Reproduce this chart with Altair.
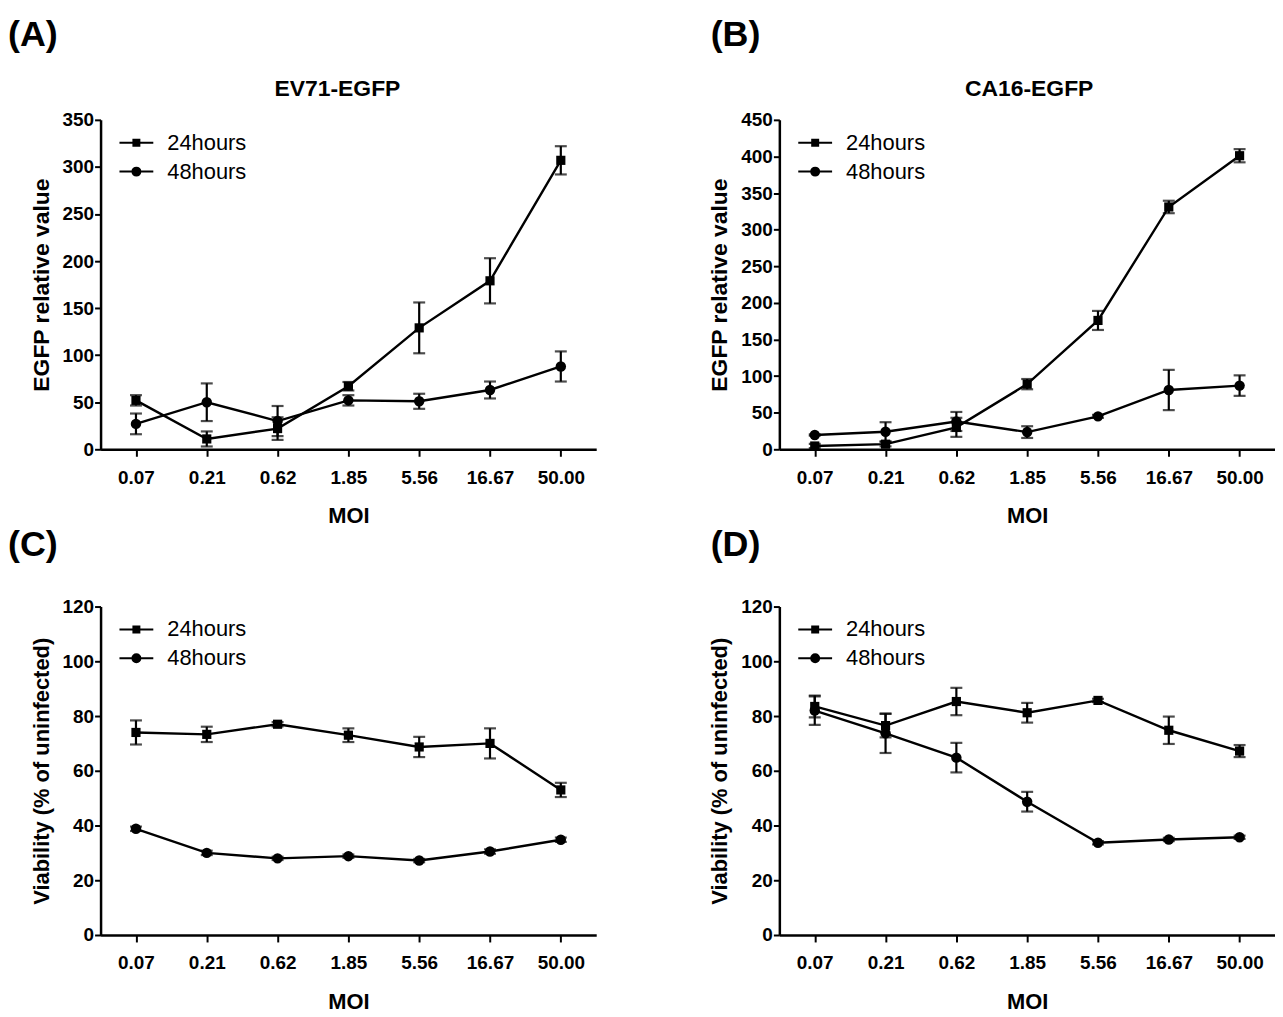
import altair as alt
import pandas as pd

moi = ["0.07", "0.21", "0.62", "1.85", "5.56", "16.67", "50.00"]
series_names = ["24hours", "48hours"]

# Panel A: EV71-EGFP, EGFP relative value
a_24 = [52, 11, 22, 67, 129, 179, 307]
a_24_err = [5.5, 8, 12, 4.5, 27, 24, 15]
a_48 = [27, 50, 30, 52, 51, 63, 88]
a_48_err = [11, 20, 16, 5.5, 8, 9, 16]

# Panel B: CA16-EGFP
b_24 = [4.5, 7, 30, 89, 176, 331, 401]
b_24_err = [3, 3, 13, 7, 13, 8.5, 9]
b_48 = [19.5, 24, 38, 23.5, 45, 81, 87]
b_48_err = [1, 13, 13, 8, 2, 27.5, 14]

# Panel C: EV71 viability
c_24 = [74, 73.3, 77, 73, 68.7, 70, 53]
c_24_err = [4.4, 2.8, 0.8, 2.5, 3.7, 5.5, 2.6]
c_48 = [38.8, 30, 28, 28.8, 27.2, 30.5, 34.8]
c_48_err = [0.8, 0.8, 0.6, 0.6, 0.6, 0.8, 0.8]

# Panel D: CA16 viability
d_24 = [83.5, 76.5, 85.3, 81.2, 85.7, 74.8, 67.2]
d_24_err = [4, 4.3, 5, 3.6, 0.6, 5, 2.2]
d_48 = [82, 73.7, 64.8, 48.7, 33.7, 34.9, 35.7]
d_48_err = [5.2, 7.2, 5.4, 3.6, 0.6, 0.6, 0.6]

FONT = "Liberation Sans"
PLOT_W = 498

# legend symbols: connecting line plus a marker, drawn with strokes only
SQUARE_LEG = ("M-1.7,0H1.7"
              "M-0.4,-0.3H0.4M-0.4,-0.1H0.4M-0.4,0.1H0.4M-0.4,0.3H0.4")
CIRCLE_LEG = ("M-1.7,0H1.7"
              "M0.4,0A0.4,0.4,0,1,1,-0.4,0A0.4,0.4,0,1,1,0.4,0"
              "M0.2,0A0.2,0.2,0,1,1,-0.2,0A0.2,0.2,0,1,1,0.2,0")


def build_df(v24, e24, v48, e48):
    rows = []
    for name, vals, errs in [("24hours", v24, e24), ("48hours", v48, e48)]:
        for m, v, e in zip(moi, vals, errs):
            rows.append({"moi": m, "series": name, "value": v,
                         "lower": v - e, "upper": v + e})
    return pd.DataFrame(rows)


def panel(df, ymax, ystep, ytitle, ytitle_size, letter, letter_dx,
          letter_offset, height, subtitle=None, subtitle_x=249):
    x = alt.X("moi:O", sort=moi,
              scale=alt.Scale(type="point", padding=0.5),
              axis=alt.Axis(title="MOI", labelAngle=0, labelFontSize=19,
                            labelFontWeight="bold", labelFont=FONT,
                            titleFontSize=22, titleFontWeight="bold",
                            titleFont=FONT, tickSize=7, tickWidth=2,
                            tickColor="black", domainColor="black",
                            domainWidth=2.5, labelColor="black",
                            titleColor="black", labelPadding=12,
                            titlePadding=19, grid=False,
                            labelOverlap=False))
    yaxis = alt.Axis(title=ytitle, values=list(range(0, ymax + 1, ystep)),
                     labelFontSize=19, labelFontWeight="bold", labelFont=FONT,
                     titleFontSize=ytitle_size, titleFontWeight="bold",
                     titleFont=FONT, tickSize=6, tickWidth=2,
                     tickColor="black", domainColor="black", domainWidth=2.5,
                     labelColor="black", titleColor="black",
                     labelPadding=1, titlePadding=9, grid=False,
                     labelOverlap=False)
    yscale = alt.Scale(domain=[0, ymax], nice=False)

    def Y(field):
        return alt.Y(field, scale=yscale, axis=yaxis)

    base = alt.Chart(df)
    line = base.mark_line(color="black", strokeWidth=2.4).encode(
        x=x, y=Y("value:Q"), detail="series:N")
    rule = base.mark_rule(color="black", strokeWidth=2.2).encode(
        x=x, y=Y("lower:Q"), y2="upper:Q")
    cap_hi = base.mark_tick(color="black", size=12, thickness=2.2).encode(
        x=x, y=Y("upper:Q"))
    cap_lo = base.mark_tick(color="black", size=12, thickness=2.2).encode(
        x=x, y=Y("lower:Q"))
    sq = base.transform_filter(alt.datum.series == "24hours").mark_point(
        shape="square", filled=True, color="black", size=85, opacity=1
    ).encode(x=x, y=Y("value:Q"))
    ci = base.transform_filter(alt.datum.series == "48hours").mark_point(
        shape="circle", filled=True, color="black", size=110, opacity=1
    ).encode(x=x, y=Y("value:Q"))
    leg = base.transform_filter("false").mark_point(
        filled=False, color="black", strokeWidth=2, opacity=1
    ).encode(
        x=x, y=Y("value:Q"),
        shape=alt.Shape("series:N",
                        scale=alt.Scale(domain=series_names,
                                        range=[SQUARE_LEG, CIRCLE_LEG]),
                        legend=alt.Legend(
                            title=None, orient="none", legendX=25,
                            legendY=12, labelFontSize=22, labelFont=FONT,
                            labelColor="black", labelFontWeight="normal",
                            symbolSize=400, symbolStrokeColor="black",
                            symbolStrokeWidth=2, symbolOpacity=1,
                            labelOffset=20, rowPadding=7, padding=0)))
    layers = [line, rule, cap_hi, cap_lo, sq, ci, leg]
    if subtitle:
        tdf = pd.DataFrame({"t": [subtitle]})
        sub = alt.Chart(tdf).mark_text(
            fontSize=23, fontWeight="bold", font=FONT, color="black",
            align="center", baseline="alphabetic"
        ).encode(x=alt.value(subtitle_x), y=alt.value(-24), text="t:N")
        layers.append(sub)
    ch = alt.layer(*layers).properties(
        width=PLOT_W, height=height,
        title=alt.TitleParams(text=letter, fontSize=36, fontWeight="bold",
                              font=FONT, color="black", anchor="start",
                              frame="group", dx=letter_dx,
                              offset=letter_offset, baseline="alphabetic"))
    return ch


pa = panel(build_df(a_24, a_24_err, a_48, a_48_err), 350, 50,
           "EGFP relative value", 23, "(A)", -93, -4, 331,
           subtitle="EV71-EGFP", subtitle_x=238)
pb = panel(build_df(b_24, b_24_err, b_48, b_48_err), 450, 50,
           "EGFP relative value", 23, "(B)", -69, -4, 331,
           subtitle="CA16-EGFP", subtitle_x=251)
pc = panel(build_df(c_24, c_24_err, c_48, c_48_err), 120, 20,
           "Viability (% of uninfected)", 22, "(C)", -93, 6, 330)
pd_ = panel(build_df(d_24, d_24_err, d_48, d_48_err), 120, 20,
            "Viability (% of uninfected)", 22, "(D)", -69, 6, 330)


def hc(a, b):
    return alt.hconcat(a, b, spacing=113).resolve_scale(
        x="independent", y="independent", shape="independent"
    ).resolve_legend(shape="independent")


chart = alt.vconcat(hc(pa, pb), hc(pc, pd_), spacing=0).resolve_scale(
    x="independent", y="independent", shape="independent"
).resolve_legend(shape="independent").properties(
    padding={"left": 0, "top": 7, "right": 0, "bottom": 0}
).configure(font=FONT).configure_view(stroke="transparent", strokeWidth=0)

chart.save("out.html", embed_options={"renderer": "svg", "actions": False})
